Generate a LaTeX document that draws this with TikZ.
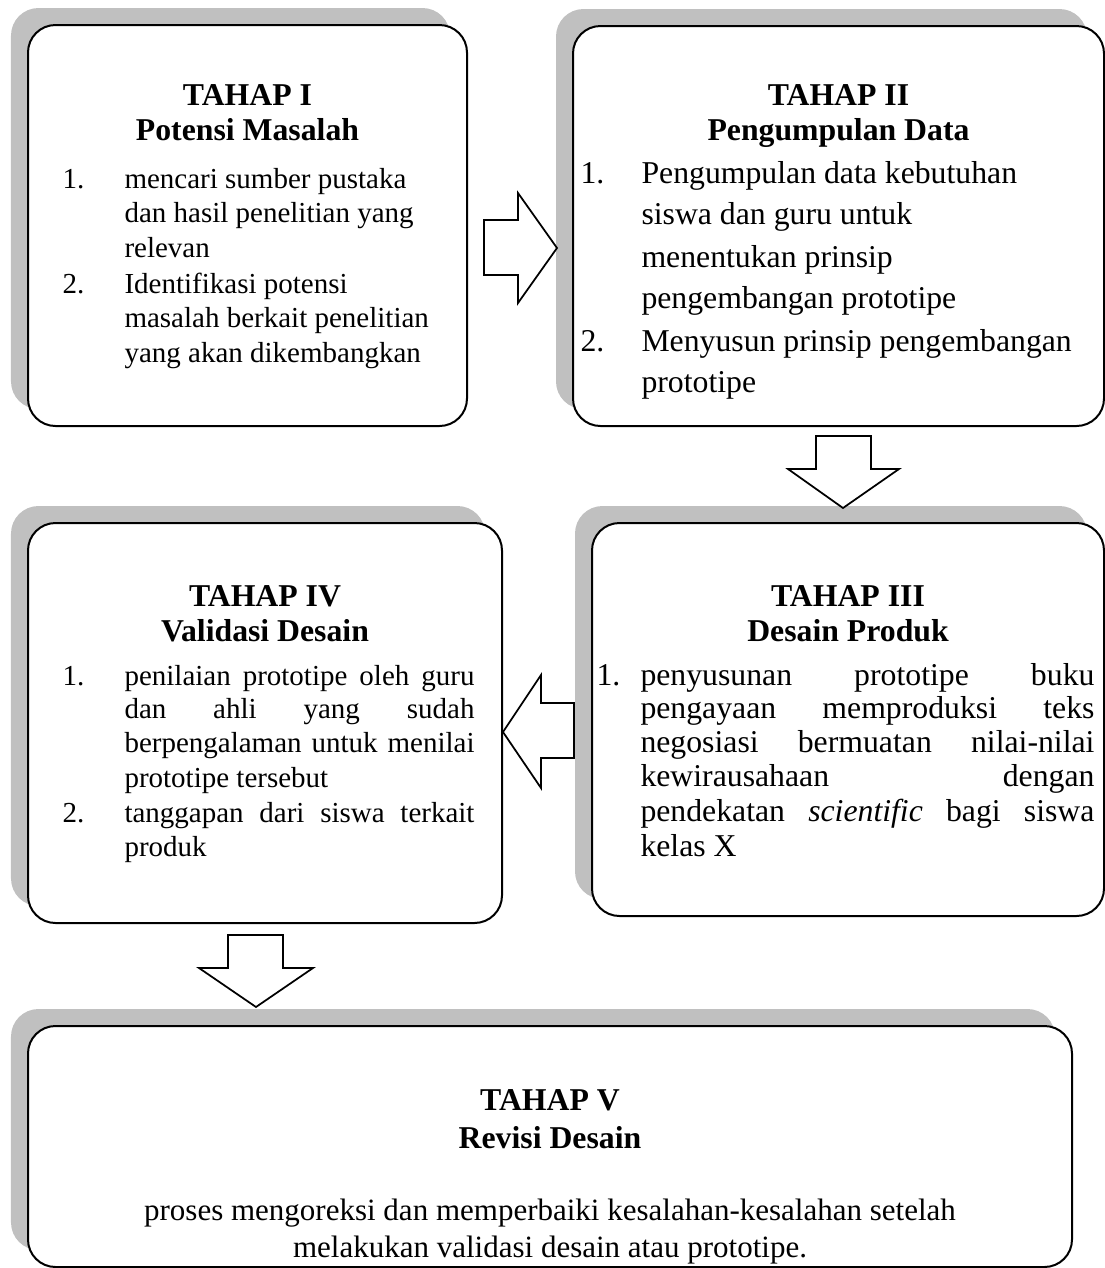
\documentclass[tikz,border=0pt]{standalone}
\usepackage{fontspec}
\setmainfont{Liberation Serif}
\usetikzlibrary{shadows,fit}
\definecolor{shadowgray}{RGB}{192,192,192}
\newdimen\pxu \pxu=0.4pt
\tikzset{
  box/.style={draw=black, line width=0.8pt, fill=white, rounded corners=11pt, inner sep=0pt,
    general shadow={fill=shadowgray, shadow xshift=-6.8pt, shadow yshift=6.8pt}},
  txt/.style={font=\fontsize{12.7}{15}\selectfont, inner sep=0pt, anchor=base west},
  stxt/.style={font=\fontsize{11.6}{14}\selectfont, inner sep=0pt, anchor=base west},
  ctxt/.style={font=\fontsize{12.4}{15}\selectfont, inner sep=0pt, anchor=base},
  ttl/.style={font=\fontsize{12.7}{15}\selectfont\bfseries, inner sep=0pt, anchor=base},
  blockarrow/.style={draw=black, line width=0.7pt, fill=white, line join=miter},
}
\begin{document}
\begin{tikzpicture}[x=0.4pt, y=-0.4pt]
\useasboundingbox (0,0) rectangle (1105,1268);

% boxes
\node[box, fit={(28,25) (467,426)}] (b1) {};
\node[box, fit={(573,26) (1104,426)}] (b2) {};
\node[box, fit={(592,523) (1104,916)}] (b3) {};
\node[box, fit={(28,523) (502,923)}] (b4) {};
\node[box, fit={(28,1026) (1072,1267)}] (b5) {};

% block arrows
\draw[blockarrow] (484,220) -- (518,220) -- (518,193) -- (557,248) -- (518,303) -- (518,275) -- (484,275) -- cycle;
\draw[blockarrow] (816,436) -- (871,436) -- (871,469) -- (899,469) -- (843,508) -- (788,469) -- (816,469) -- cycle;
\draw[blockarrow] (574,703) -- (541,703) -- (541,675) -- (503,732) -- (541,788) -- (541,758) -- (574,758) -- cycle;
\draw[blockarrow] (228,935) -- (283,935) -- (283,968) -- (313,968) -- (256,1007) -- (199,968) -- (228,968) -- cycle;

% TAHAP I
\node[ttl] (t1a) at (247.5,105.5) {TAHAP I};
\node[ttl] (t1b) at (247.5,140.5) {Potensi Masalah};
\node[stxt] (n1a) at (62,188) {1.};
\node[stxt] (l1a) at (124,188) {mencari sumber pustaka};
\node[stxt] (l1b) at (124,222) {dan hasil penelitian yang};
\node[stxt] (l1c) at (124,257) {relevan};
\node[stxt] (n1b) at (62,293) {2.};
\node[stxt] (l1d) at (124,293) {Identifikasi potensi};
\node[stxt] (l1e) at (124,327) {masalah berkait penelitian};
\node[stxt] (l1f) at (124,362) {yang akan dikembangkan};

% TAHAP II
\node[ttl] (t2a) at (838.5,105.5) {TAHAP II};
\node[ttl] (t2b) at (838.5,140.5) {Pengumpulan Data};
\node[txt] (n2a) at (580,183) {1.};
\node[txt] (l2a) at (641,183) {Pengumpulan data kebutuhan};
\node[txt] (l2b) at (641,224) {siswa dan guru untuk};
\node[txt] (l2c) at (641,267) {menentukan prinsip};
\node[txt] (l2d) at (641,308) {pengembangan prototipe};
\node[txt] (n2b) at (580,351) {2.};
\node[txt] (l2e) at (641,351) {Menyusun prinsip pengembangan};
\node[txt] (l2f) at (641,392) {prototipe};

% TAHAP III
\node[ttl] (t3a) at (848,606.5) {TAHAP III};
\node[ttl] (t3b) at (848,641) {Desain Produk};
\node[txt] (n3a) at (596,685) {1.};
\node[txt] (l3a) at (640,685) {\makebox[454\pxu][s]{penyusunan prototipe buku}};
\node[txt] (l3b) at (640,718) {\makebox[454\pxu][s]{pengayaan memproduksi teks}};
\node[txt] (l3c) at (640,752) {\makebox[454\pxu][s]{negosiasi bermuatan nilai-nilai}};
\node[txt] (l3d) at (640,786) {\makebox[454\pxu][s]{kewirausahaan dengan}};
\node[txt] (l3e) at (640,821) {\makebox[454\pxu][s]{pendekatan \textit{scientific} bagi siswa}};
\node[txt] (l3f) at (640,856) {kelas X};

% TAHAP IV
\node[ttl] (t4a) at (265,606.5) {TAHAP IV};
\node[ttl] (t4b) at (265,641) {Validasi Desain};
\node[stxt] (n4a) at (62,685) {1.};
\node[stxt] (l4a) at (124,685) {\makebox[350\pxu][s]{penilaian prototipe oleh guru}};
\node[stxt] (l4b) at (124,718) {\makebox[350\pxu][s]{dan ahli yang sudah}};
\node[stxt] (l4c) at (124,752) {\makebox[350\pxu][s]{berpengalaman untuk menilai}};
\node[stxt] (l4d) at (124,787) {prototipe tersebut};
\node[stxt] (n4b) at (62,822) {2.};
\node[stxt] (l4e) at (124,822) {\makebox[350\pxu][s]{tanggapan dari siswa terkait}};
\node[stxt] (l4f) at (124,856) {produk};

% TAHAP V
\node[ttl] (t5a) at (550,1110.5) {TAHAP V};
\node[ttl] (t5b) at (550,1148) {Revisi Desain};
\node[ctxt] (l5a) at (550,1220) {proses mengoreksi dan memperbaiki kesalahan-kesalahan setelah};
\node[ctxt] (l5b) at (550,1257) {melakukan validasi desain atau prototipe.};
\end{tikzpicture}
\end{document}
